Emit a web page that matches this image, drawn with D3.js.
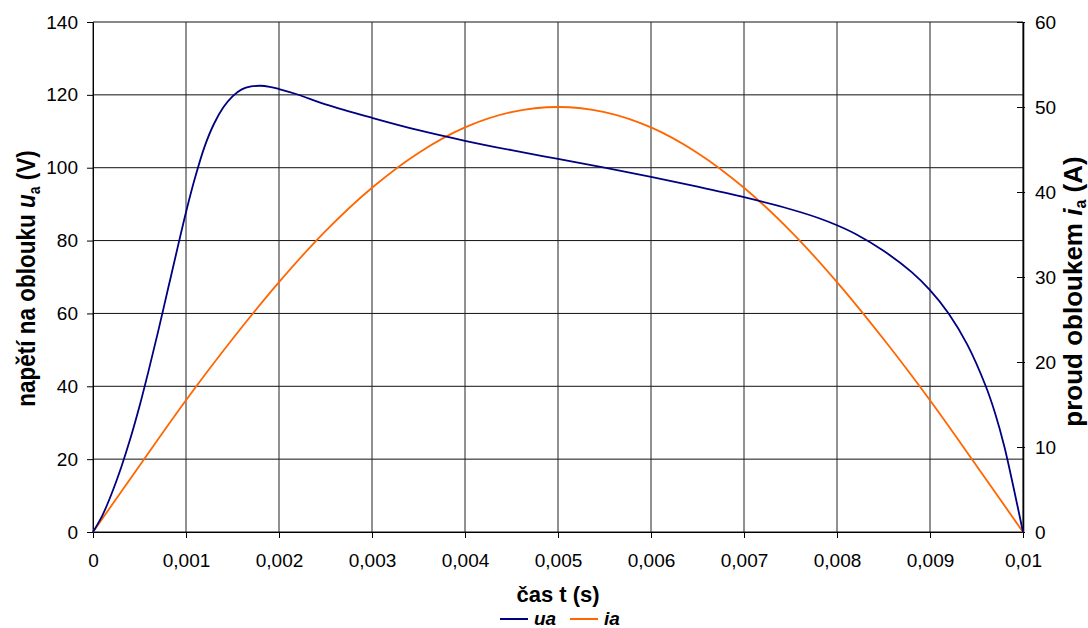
<!DOCTYPE html>
<html>
<head>
<meta charset="utf-8">
<script src="https://cdn.jsdelivr.net/npm/d3@7"></script>
<style>
  html, body { margin: 0; padding: 0; background: #fff; }
  svg { display: block; font-family: "Liberation Sans", Arial, sans-serif; }
</style>
</head>
<body>
<svg id="chart" width="1088" height="628"></svg>
<script>
// Arc voltage u_a (V) over time t (s)
const uaTime = [0, 0.0001, 0.0002, 0.0003, 0.0004, 0.0005, 0.0006, 0.0007, 0.0008, 0.0009,
  0.001, 0.0011, 0.0012, 0.0013, 0.0014, 0.0015, 0.0016, 0.0017, 0.0018, 0.0019,
  0.002, 0.0022, 0.0025, 0.003, 0.0035, 0.004, 0.0045, 0.005, 0.0055, 0.006,
  0.0065, 0.007, 0.0075, 0.0078, 0.008, 0.0082, 0.0085, 0.0088, 0.009, 0.0092,
  0.0094, 0.0096, 0.0097, 0.0098, 0.0099, 0.01];
const uaValues = [0, 4.5, 10.5, 17.5, 25.5, 34.5, 44.5, 55, 66, 77,
  87.8, 97.5, 105.8, 112, 116.5, 119.6, 121.5, 122.3, 122.5, 122.2,
  121.6, 120.1, 117.4, 113.7, 110.3, 107.4, 104.8, 102.4, 100, 97.5,
  94.8, 91.9, 88.6, 86.2, 84.2, 81.8, 77.2, 71.4, 66.4, 60,
  51.5, 40, 32.6, 23.4, 12, 0];

// Arc current i_a (A) over time t (s)
const iaTime = [0, 0.0005, 0.001, 0.0015, 0.002, 0.0025, 0.003, 0.0035, 0.004, 0.0045,
  0.005, 0.0055, 0.006, 0.0065, 0.007, 0.0075, 0.008, 0.0085, 0.009, 0.0095, 0.01];
const iaValues = [0, 7.8, 15.5, 22.7, 29.4, 35.4, 40.5, 44.6, 47.6, 49.4,
  50, 49.4, 47.6, 44.6, 40.5, 35.4, 29.4, 22.7, 15.5, 7.8, 0];

// Tick values and labels
const xTicks = [0, 0.001, 0.002, 0.003, 0.004, 0.005, 0.006, 0.007, 0.008, 0.009, 0.01];
const xTickLabels = ["0", "0,001", "0,002", "0,003", "0,004", "0,005", "0,006", "0,007", "0,008", "0,009", "0,01"];
const uTicks = [0, 20, 40, 60, 80, 100, 120, 140];
const iTicks = [0, 10, 20, 30, 40, 50, 60];

const seriesNames = ["ua", "ia"];
const seriesColors = ["#000080", "#FF6600"];

const svg = d3.select("#chart");
const L = 93, R = 1023, T = 22, B = 532;

const x = d3.scaleLinear().domain([0, 0.01]).range([L, R]);
const yU = d3.scaleLinear().domain([0, 140]).range([B, T]);
const yI = d3.scaleLinear().domain([0, 60]).range([B, T]);

const FONT = "'Liberation Sans', Arial, sans-serif";
const TICK_FONT = 19;

// Grid
const grid = svg.append("g");
grid.selectAll("line.h").data(uTicks).join("line")
  .attr("x1", L).attr("x2", R)
  .attr("y1", d => yU(d)).attr("y2", d => yU(d))
  .attr("stroke", "#111").attr("stroke-width", 1);
grid.selectAll("line.v").data(xTicks).join("line")
  .attr("x1", d => x(d)).attr("x2", d => x(d))
  .attr("y1", T).attr("y2", B)
  .attr("stroke", "#222").attr("stroke-width", 1);

// Left axis
const axL = svg.append("g").attr("transform", `translate(${L},0)`)
  .call(d3.axisLeft(yU).tickValues(uTicks).tickSize(6).tickPadding(9).tickSizeOuter(0));
// Bottom axis
const axB = svg.append("g").attr("transform", `translate(0,${B})`)
  .call(d3.axisBottom(x).tickValues(xTicks).tickFormat((d, i) => xTickLabels[i])
    .tickSize(6).tickPadding(16).tickSizeOuter(0));
// Right axis (ticks cross the axis line)
const axR = svg.append("g").attr("transform", `translate(${R},0)`)
  .call(d3.axisRight(yI).tickValues(iTicks).tickSize(2).tickPadding(10).tickSizeOuter(0));
axR.selectAll(".tick line").attr("x1", -6).attr("x2", 2);
axR.select(".domain").attr("stroke-width", 1.6);

[axL, axB, axR].forEach(a => {
  a.attr("font-size", TICK_FONT).attr("font-family", FONT);
  a.select(".domain").attr("stroke", "#000");
  a.selectAll(".tick line").attr("stroke", "#000");
  a.selectAll(".tick text").attr("fill", "#000").attr("font-size", TICK_FONT);
});

// Series
const lineU = d3.line().x((d, i) => x(uaTime[i])).y(d => yU(d)).curve(d3.curveCatmullRom.alpha(0.5));
const lineI = d3.line().x((d, i) => x(iaTime[i])).y(d => yI(d)).curve(d3.curveCatmullRom.alpha(0.5));

svg.append("path").attr("d", lineI(iaValues))
  .attr("fill", "none").attr("stroke", seriesColors[1]).attr("stroke-width", 1.8);
svg.append("path").attr("d", lineU(uaValues))
  .attr("fill", "none").attr("stroke", seriesColors[0]).attr("stroke-width", 1.8);

// Axis titles
svg.append("text")
  .attr("x", (L + R) / 2).attr("y", 602)
  .attr("text-anchor", "middle")
  .style("font-size", "22px").style("font-weight", "bold")
  .text("čas t (s)");

const tl = svg.append("text")
  .attr("transform", "translate(35,278.5) rotate(-90) scale(1,1.18)")
  .attr("text-anchor", "middle")
  .style("font-size", "22.5px").style("font-weight", "bold");
tl.append("tspan").text("napětí na oblouku  ");
tl.append("tspan").style("font-style", "italic").text("u");
tl.append("tspan").attr("dy", 4).style("font-size", "14px").text("a");
tl.append("tspan").attr("dy", -4).text(" (V)");

const tr = svg.append("text")
  .attr("transform", "translate(1082,291.5) rotate(-90)")
  .attr("text-anchor", "middle")
  .style("font-size", "26px").style("font-weight", "bold");
tr.append("tspan").text("proud obloukem ");
tr.append("tspan").style("font-style", "italic").text("i");
tr.append("tspan").attr("dy", 4).style("font-size", "16px").text("a");
tr.append("tspan").attr("dy", -4).text(" (A)");

// Legend
const legend = svg.append("g");
const legX = [500, 570];
const legY = 619;
seriesNames.forEach((name, i) => {
  legend.append("line")
    .attr("x1", legX[i]).attr("x2", legX[i] + 28)
    .attr("y1", legY).attr("y2", legY)
    .attr("stroke", seriesColors[i]).attr("stroke-width", 2);
  legend.append("text")
    .attr("x", legX[i] + 34).attr("y", legY + 6)
    .style("font-size", "19px").style("font-weight", "bold").style("font-style", "italic")
    .text(name);
});
</script>
</body>
</html>
